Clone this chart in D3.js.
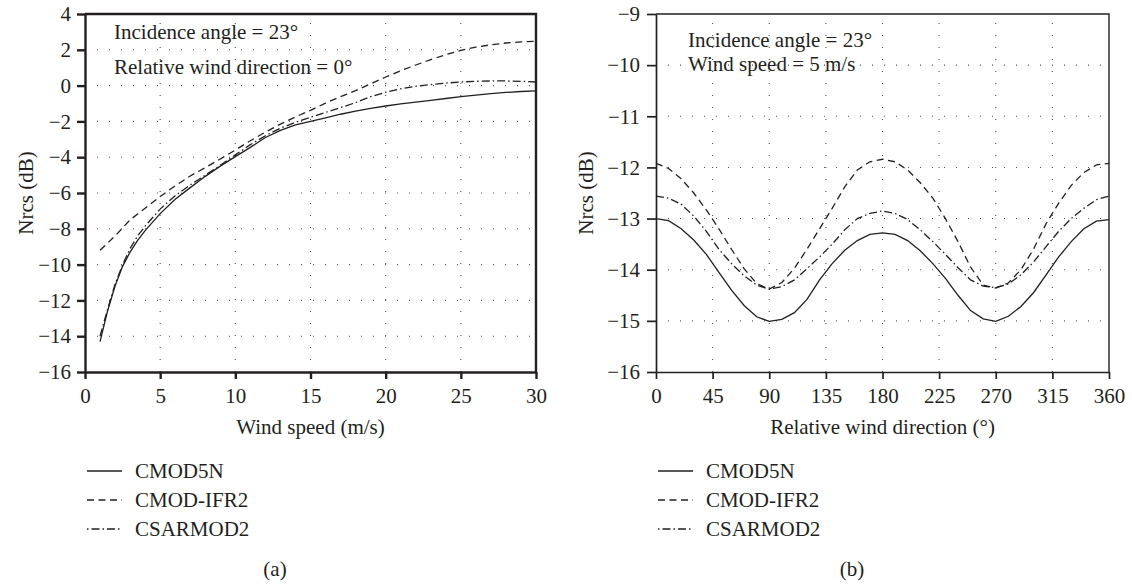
<!DOCTYPE html>
<html>
<head>
<meta charset="utf-8">
<script src="https://cdn.jsdelivr.net/npm/d3@7"></script>
<style>
  body { margin: 0; background: #fff; }
  svg { display: block; font-family: "Liberation Serif", "Times New Roman", serif; }
  .tick text { font-size: 21px; fill: #231f20; }
  .tick line { stroke: #231f20; }
  .label { font-size: 21px; fill: #231f20; }
  .grid { stroke: #555; stroke-width: 1.1; stroke-dasharray: 1,11; fill: none; }
  .curve { fill: none; stroke: #231f20; stroke-width: 1.3; }
</style>
</head>
<body>
<div id="chart"></div>
<script>
//Panel (a): wind speed
const windSpeed = [1, 1.5, 2, 2.5, 3, 3.5, 4, 5, 6, 7, 8, 9, 10, 11, 12, 13, 14, 15, 16, 17, 18, 19, 20, 21, 22, 23, 24, 25, 26, 27, 28, 29, 30];
const cmod5nA = [-14.3, -12.6, -11.2, -10.1, -9.3, -8.65, -8.1, -7.15, -6.35, -5.7, -5.07, -4.5, -3.97, -3.45, -2.9, -2.5, -2.2, -2.0, -1.8, -1.6, -1.42, -1.27, -1.14, -1.02, -0.92, -0.82, -0.72, -0.62, -0.53, -0.45, -0.38, -0.33, -0.3];
const cmodIfr2A = [-9.2, -8.8, -8.4, -7.95, -7.5, -7.17, -6.85, -6.2, -5.6, -5.05, -4.58, -4.1, -3.6, -3.08, -2.6, -2.15, -1.75, -1.38, -0.98, -0.62, -0.28, 0.1, 0.48, 0.83, 1.15, 1.45, 1.73, 1.97, 2.15, 2.28, 2.38, 2.44, 2.47];
const csarmod2A = [-14.0, -12.5, -11.1, -10.0, -9.1, -8.4, -7.85, -6.9, -6.15, -5.55, -5.0, -4.45, -3.87, -3.3, -2.8, -2.38, -2.05, -1.77, -1.5, -1.23, -0.95, -0.62, -0.37, -0.18, -0.04, 0.06, 0.14, 0.2, 0.24, 0.26, 0.26, 0.24, 0.2];
const ticksXA = [0, 5, 10, 15, 20, 25, 30];
const ticksYA = [4, 2, 0, -2, -4, -6, -8, -10, -12, -14, -16];

//Panel (b): relative wind direction
const windDir = [0, 10, 20, 30, 40, 50, 60, 70, 80, 90, 100, 110, 120, 130, 140, 150, 160, 170, 180, 190, 200, 210, 220, 230, 240, 250, 260, 270, 280, 290, 300, 310, 320, 330, 340, 350, 360];
const cmod5nB = [-13.0, -13.04, -13.2, -13.42, -13.7, -14.05, -14.4, -14.7, -14.92, -15.01, -14.97, -14.84, -14.58, -14.2, -13.88, -13.62, -13.43, -13.31, -13.28, -13.31, -13.43, -13.63, -13.88, -14.17, -14.5, -14.8, -14.96, -15.01, -14.91, -14.72, -14.45, -14.1, -13.75, -13.45, -13.2, -13.05, -13.02];
const cmodIfr2B = [-11.92, -12.02, -12.22, -12.5, -12.83, -13.2, -13.6, -13.98, -14.27, -14.38, -14.25, -13.97, -13.6, -13.2, -12.8, -12.38, -12.05, -11.89, -11.84, -11.89, -12.05, -12.3, -12.6, -13.0, -13.45, -13.95, -14.3, -14.36, -14.26, -14.0, -13.6, -13.1, -12.7, -12.35, -12.1, -11.95, -11.92];
const csarmod2B = [-12.56, -12.6, -12.72, -12.95, -13.25, -13.6, -13.88, -14.12, -14.3, -14.38, -14.33, -14.2, -13.98, -13.75, -13.5, -13.22, -13.0, -12.9, -12.85, -12.9, -13.02, -13.22, -13.45, -13.7, -13.96, -14.2, -14.32, -14.35, -14.28, -14.1, -13.85, -13.55, -13.25, -13.0, -12.8, -12.63, -12.56];
const ticksXB = [0, 45, 90, 135, 180, 225, 270, 315, 360];
const ticksYB = [-9, -10, -11, -12, -13, -14, -15, -16];

const modelNames = ["CMOD5N", "CMOD-IFR2", "CSARMOD2"];
const dashes = [null, "7,4.5", "8,3,1.5,3"];

//Create SVG element
const svg = d3.select("#chart")
  .append("svg")
  .attr("width", 1132)
  .attr("height", 586);

svg.append("rect")
  .attr("width", 1132)
  .attr("height", 586)
  .attr("fill", "#fff");

function drawPanel(p) {
  const g = svg.append("g");

  //Scales
  const x = d3.scaleLinear().domain(p.xDomain).range([p.left, p.right]);
  const y = d3.scaleLinear().domain(p.yDomain).range([372, 14]);

  //Dotted grid
  g.selectAll(".gx")
    .data(p.ticksX.slice(1, -1))
    .join("line")
    .attr("class", "grid")
    .attr("x1", d => x(d)).attr("x2", d => x(d))
    .attr("y1", y.range()[0]).attr("y2", y.range()[1]);
  g.selectAll(".gy")
    .data(p.ticksY.slice(1, -1))
    .join("line")
    .attr("class", "grid")
    .attr("y1", d => y(d)).attr("y2", d => y(d))
    .attr("x1", p.left).attr("x2", p.right);

  //Curves
  const line = d3.line()
    .x(d => x(d[0]))
    .y(d => y(d[1]));
  p.series.forEach(function(s, i) {
    g.append("path")
      .attr("class", "curve")
      .datum(p.xs.map((v, j) => [v, s[j]]))
      .attr("stroke-dasharray", dashes[i])
      .attr("d", line);
  });

  //Axes
  const xAxis = d3.axisBottom(x)
    .tickValues(p.ticksX)
    .tickFormat(d3.format("d"))
    .tickSize(7)
    .tickSizeOuter(0)
    .tickPadding(9);
  const yAxis = d3.axisLeft(y)
    .tickValues(p.ticksY)
    .tickFormat(d3.format("d"))
    .tickSize(p.tick)
    .tickSizeOuter(0)
    .tickPadding(p.pad);

  const gx = g.append("g")
    .attr("transform", "translate(0,372)")
    .call(xAxis);
  const gy = g.append("g")
    .attr("transform", "translate(" + p.left + ",0)")
    .call(yAxis);
  [gx, gy].forEach(a => {
    a.attr("font-family", null).attr("font-size", null);
    a.selectAll(".tick line").attr("stroke-width", p.stroke);
    a.select(".domain").attr("stroke", "#231f20").attr("stroke-width", p.stroke);
  });

  //Top and right frame
  g.append("path")
    .attr("d", "M" + p.left + ",14H" + p.right + "V372")
    .attr("fill", "none")
    .attr("stroke", "#231f20")
    .attr("stroke-width", p.frame);

  //Inset notes
  p.notes.forEach(function(t, i) {
    g.append("text")
      .attr("class", "label")
      .attr("x", p.noteX)
      .attr("y", p.noteY[i])
      .text(t);
  });

  //Axis titles
  g.append("text")
    .attr("class", "label")
    .attr("text-anchor", "middle")
    .attr("x", (p.left + p.right) / 2)
    .attr("y", 434)
    .text(p.xTitle);
  g.append("text")
    .attr("class", "label")
    .attr("text-anchor", "middle")
    .attr("transform", "translate(" + p.yTitleX + ",193) rotate(-90)")
    .text("Nrcs (dB)");

  //Legend
  modelNames.forEach(function(name, i) {
    const ly = 471 + i * 29;
    g.append("line")
      .attr("class", "curve")
      .attr("x1", p.left + 2).attr("x2", p.left + 37)
      .attr("y1", ly).attr("y2", ly)
      .attr("stroke-dasharray", i === 2 ? "1.5,3,8,3" : dashes[i]);
    g.append("text")
      .attr("class", "label")
      .attr("x", p.left + 50)
      .attr("y", ly + 7)
      .text(name);
  });

  //Caption
  g.append("text")
    .attr("class", "label")
    .attr("text-anchor", "middle")
    .attr("x", p.caption)
    .attr("y", 576)
    .text(p.tag);
}

drawPanel({
  xs: windSpeed, series: [cmod5nA, cmodIfr2A, csarmod2A],
  xDomain: [0, 30], yDomain: [-16, 4], left: 85, right: 536,
  ticksX: ticksXA, ticksY: ticksYA, tick: 8, pad: 6,
  stroke: 2.4, frame: 2.4,
  notes: ["Incidence angle = 23°", "Relative wind direction = 0°"], noteX: 114, noteY: [39, 74],
  xTitle: "Wind speed (m/s)", yTitleX: 33, caption: 275, tag: "(a)"
});

drawPanel({
  xs: windDir, series: [cmod5nB, cmodIfr2B, csarmod2B],
  xDomain: [0, 360], yDomain: [-16, -9], left: 656, right: 1109,
  ticksX: ticksXB, ticksY: ticksYB, tick: 9, pad: 7,
  stroke: 1.7, frame: 1.4,
  notes: ["Incidence angle = 23°", "Wind speed = 5 m/s"], noteX: 688, noteY: [47, 71],
  xTitle: "Relative wind direction (°)", yTitleX: 593, caption: 852, tag: "(b)"
});
</script>
</body>
</html>
